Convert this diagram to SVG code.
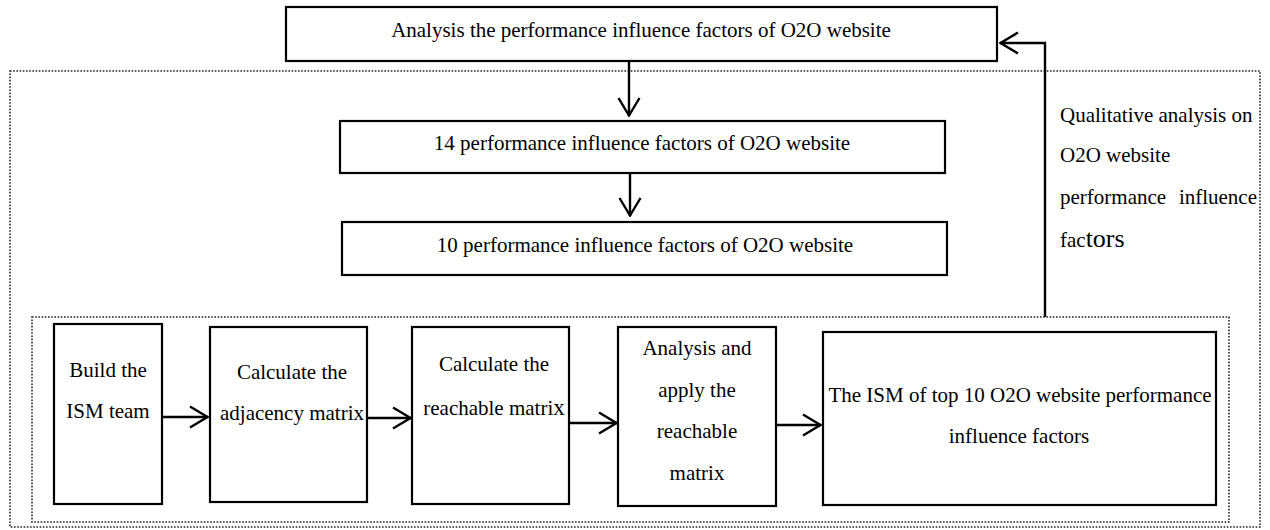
<svg xmlns="http://www.w3.org/2000/svg" width="1270" height="530" viewBox="0 0 1270 530">
<style>
  .box { fill: #fff; stroke: #000; stroke-width: 2.2; }
  .dot { fill: none; stroke: #222; stroke-width: 1.6; stroke-dasharray: 1.6 1.6; }
  .lbl { font-family: "Liberation Serif", "Times New Roman", serif; font-size: 21px; fill: #000; }
  .c { text-anchor: middle; }
  .conn { fill: none; stroke: #000; stroke-width: 2.4; marker-end: url(#arr); }
</style>
<defs>
  <marker id="arr" viewBox="0 0 20 24" refX="19" refY="12" markerWidth="20" markerHeight="24" markerUnits="userSpaceOnUse" orient="auto">
    <path d="M1,1.5 L18.5,12 L1,22.5" fill="none" stroke="#000" stroke-width="2.4"/>
  </marker>
</defs>
<rect width="1270" height="530" fill="#fff"/>

<g id="outer-frame"><rect class="dot" x="10" y="71" width="1250" height="456"/></g>
<g id="inner-frame"><rect class="dot" x="32" y="317" width="1197" height="205"/></g>

<g id="n-top">
  <rect class="box" x="286" y="7" width="711" height="54"/>
  <text class="lbl c" x="641" y="37">Analysis the performance influence factors of O2O  website</text>
</g>
<g id="n-14">
  <rect class="box" x="340" y="121" width="605" height="52"/>
  <text class="lbl c" x="642" y="150">14 performance influence factors of O2O  website</text>
</g>
<g id="n-10">
  <rect class="box" x="342" y="222" width="605" height="53"/>
  <text class="lbl c" x="645" y="252">10 performance influence factors of O2O  website</text>
</g>

<g id="n-team">
  <rect class="box" x="54" y="324" width="108" height="180"/>
  <text class="lbl c" x="108" y="377">Build the</text>
  <text class="lbl c" x="108" y="418">ISM team</text>
</g>
<g id="n-adj">
  <rect class="box" x="210" y="327" width="157" height="175"/>
  <text class="lbl c" x="292" y="379">Calculate the</text>
  <text class="lbl c" x="292" y="420">adjacency matrix</text>
</g>
<g id="n-reach">
  <rect class="box" x="412" y="327" width="157" height="177"/>
  <text class="lbl c" x="494" y="371">Calculate the</text>
  <text class="lbl c" x="494" y="415">reachable matri<tspan font-size="23">x</tspan></text>
</g>
<g id="n-apply">
  <rect class="box" x="618" y="327" width="158" height="179"/>
  <text class="lbl c" x="697" y="355">Analysis and</text>
  <text class="lbl c" x="697" y="397">apply the</text>
  <text class="lbl c" x="697" y="438">reachable</text>
  <text class="lbl c" x="697" y="480">matrix</text>
</g>
<g id="n-ism">
  <rect class="box" x="823" y="332" width="393" height="173"/>
  <text class="lbl c" x="1020" y="402">The ISM of top 10 O2O website performance</text>
  <text class="lbl c" x="1019" y="443">influence factors</text>
</g>

<g id="feedback-label">
  <text class="lbl" x="1060" y="122">Qualitative analysis on</text>
  <text class="lbl" x="1060" y="162">O2O website</text>
  <text class="lbl" y="204"><tspan x="1060">performance</tspan><tspan x="1257" text-anchor="end">influence</tspan></text>
  <text class="lbl" x="1060" y="247">fac<tspan font-size="26">tors</tspan></text>
</g>

<g id="connectors">
  <line class="conn" x1="629" y1="61" x2="629" y2="116"/>
  <line class="conn" x1="630" y1="173" x2="630" y2="216"/>
  <line class="conn" x1="162" y1="417" x2="208" y2="417"/>
  <line class="conn" x1="367" y1="418" x2="411" y2="418"/>
  <line class="conn" x1="569" y1="423" x2="617" y2="423"/>
  <line class="conn" x1="776" y1="425" x2="821" y2="425"/>
  <polyline class="conn" points="1045,317 1045,43 1000,43"/>
</g>
</svg>
